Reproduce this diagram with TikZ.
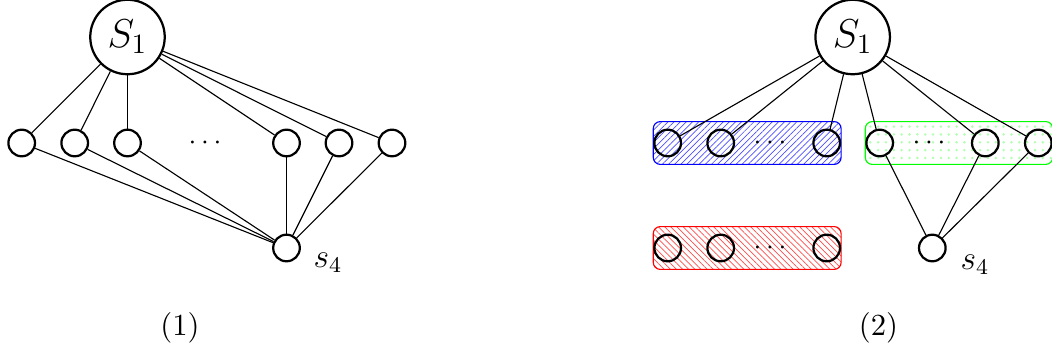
\documentclass[tikz,border=0pt]{standalone}
\usetikzlibrary{patterns.meta,fit,backgrounds}
\begin{document}
\begin{tikzpicture}[x=0.3571pt,y=-0.3571pt,
  small/.style={circle,draw,thick,inner sep=0pt,minimum size=9.5pt},
  big/.style={circle,draw,thick,inner sep=0pt,minimum size=26.6pt,font=\Large},
  edge/.style={thin},
  lab/.style={font=\large},
  captxt/.style={font=\fontsize{10.95}{13.6}\selectfont},
  grp/.style={rounded corners=2.5pt,thin,inner xsep=0pt,inner ysep=2.5pt}
]
\useasboundingbox (0,0) rectangle (1052,354);
% ---------- panel (1)
\node[big] (L) at (127.5,37) {$S_1$};
\node[small] (la) at (21.7,143) {};
\node[small] (lb) at (74.7,143) {};
\node[small] (lc) at (127.5,143) {};
\node (ldots) at (205,143) {$\cdots$};
\node[small] (ld) at (286.5,143) {};
\node[small] (le) at (339,143) {};
\node[small] (lf) at (392,143) {};
\node[small] (ls) at (286.5,248) {};
\node[lab] (lsl) at (328,263) {$s_4$};
\node[captxt] (c1) at (180,328) {(1)};
\foreach \n in {la,lb,lc,ld,le,lf}{
  \draw[edge] (L) -- (\n);
  \draw[edge] (\n) -- (ls);
}
% ---------- panel (2)
\node[big] (R) at (852.7,37) {$S_1$};
\node[small] (ra) at (667.7,143) {};
\node[small] (rb) at (720.7,143) {};
\node[small] (rc) at (826.7,143) {};
\node (rdots) at (770,143) {$\cdots$};
\node[small] (rd) at (879.7,143) {};
\node[small] (re) at (985.3,143) {};
\node[small] (rf) at (1038.3,143) {};
\node (gdots) at (929,143) {$\cdots$};
\node[small] (ka) at (667.7,248) {};
\node[small] (kb) at (720.7,248) {};
\node[small] (kc) at (826.7,248) {};
\node (kdots) at (770,248) {$\cdots$};
\node[small] (rs) at (932.3,248) {};
\node[lab] (rsl) at (975,265) {$s_4$};
\node[captxt] (c2) at (878.5,328) {(2)};
\foreach \n in {ra,rb,rc,rd,re,rf}{
  \draw[edge] (R) -- (\n);
}
\foreach \n in {rd,re,rf}{
  \draw[edge] (\n) -- (rs);
}
\begin{scope}[on background layer]
\node[grp,draw=blue,pattern={Lines[angle=45,distance=1.55pt,line width=0.25pt]},pattern color=blue!70,fit=(ra)(rc)] (gblue) {};
\node[grp,draw=green,pattern={Dots[distance=2.8pt,radius=0.5pt]},pattern color=green!30,fit=(rd)(rf)] (ggreen) {};
\node[grp,draw=red,pattern={Lines[angle=-45,distance=1.55pt,line width=0.25pt]},pattern color=red!70,fit=(ka)(kc)] (gred) {};
\end{scope}
\end{tikzpicture}
\end{document}
